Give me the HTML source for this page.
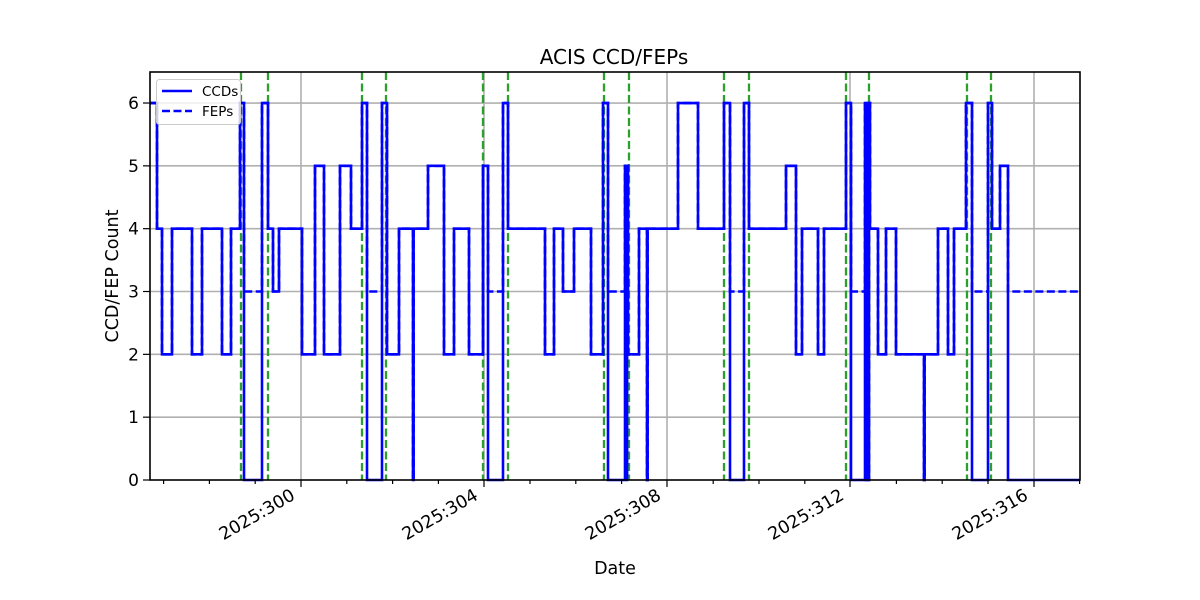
<!DOCTYPE html>
<html><head><meta charset="utf-8"><style>
html,body{margin:0;padding:0;background:#fff;}
svg{display:block;font-family:"DejaVu Sans","Liberation Sans",sans-serif;}
</style></head><body>
<svg id="s" width="1200" height="600" viewBox="0 0 1200 600" xmlns="http://www.w3.org/2000/svg">
<rect width="1200" height="600" fill="#fff"/>
<g id="grid" stroke="#b0b0b0" stroke-width="1.6"></g>
<g id="green" stroke="#2ca02c" stroke-width="2.3" stroke-dasharray="8,3.5"></g>
<polyline id="fep" fill="none" stroke="#0000ff" stroke-width="2.6" stroke-dasharray="8,3.5"/>
<polyline id="ccd" fill="none" stroke="#0000ff" stroke-width="2.6" stroke-linejoin="miter"/>
<rect x="150" y="72" width="930" height="408" fill="none" stroke="#000" stroke-width="1.6"/>
<g id="ticks" stroke="#000" stroke-width="1.2"></g>
<g id="labels" font-size="17" fill="#000"></g>
<text x="614" y="64" font-size="20" text-anchor="middle">ACIS CCD/FEPs</text>
<text x="615" y="574" font-size="17.5" text-anchor="middle">Date</text>
<text transform="translate(118,276) rotate(-90)" font-size="17.5" text-anchor="middle">CCD/FEP Count</text>
<rect x="156.5" y="79.5" width="84" height="45" rx="3" fill="#fff" fill-opacity="0.8" stroke="#ccc"/>
<line x1="162" y1="91" x2="192" y2="91" stroke="#0000ff" stroke-width="2.6"/>
<line x1="162" y1="111" x2="192" y2="111" stroke="#0000ff" stroke-width="2.6" stroke-dasharray="8,3.5"/>
<text x="202" y="96" font-size="13.5">CCDs</text>
<text x="202" y="116" font-size="13.5">FEPs</text>
</svg>
<script>
var NS="http://www.w3.org/2000/svg";
function el(p,t,a,txt){var e=document.createElementNS(NS,t);for(var k in a)e.setAttribute(k,a[k]);if(txt)e.textContent=txt;document.getElementById(p).appendChild(e);return e;}
function Y(v){return 480-62.83*v;}
var xt=[301,484,667,850,1034],xl=["2025:300","2025:304","2025:308","2025:312","2025:316"];
xt.forEach(function(x,i){el("grid","line",{x1:x,y1:72,x2:x,y2:480});
 el("ticks","line",{x1:x,y1:480,x2:x,y2:487});
 var t=el("labels","text",{x:0,y:0,"text-anchor":"end","font-size":"17.5",transform:"translate("+(x-11)+",488) rotate(-30)"},xl[i]);t.setAttribute("dy","0.7em");});
for(var d=-3;d<=17;d++){var x=301+d*45.8;if(x>150&&x<1080&&d%4!=0)el("ticks","line",{x1:x,y1:480,x2:x,y2:484});}
for(var v=0;v<=6;v++){var y=Y(v);if(v>0)el("grid","line",{x1:150,y1:y,x2:1080,y2:y});
 el("ticks","line",{x1:143,y1:y,x2:150,y2:y});el("labels","text",{x:139,y:y+6,"text-anchor":"end"},""+v);}
[241,268,362,386,483,508,604,629,724,749,846,869,967,991].forEach(function(x){el("green","line",{x1:x,y1:72,x2:x,y2:480});});
var S=[[150,6],[157,4],[162,2],[172,4],[192,2],[202,4],[222,2],[231,4],[240,6],[244,0],[262,6],[268,4],[273,3],[279,4],[302,2],[315,5],[324,2],[340,5],[351,4],[362,6],[367,0],[382,6],[387,2],[399,4],[413,-1],[413.6,4],[428,5],[444,2],[454,4],[469,2],[483,5],[488,0],[503,6],[508,4],[545,2],[554,4],[563,3],[574,4],[591,2],[603,6],[608,0],[625,5],[626,-1],[627,5],[628,2],[639,4],[647,-1],[647.6,4],[678,6],[698,4],[724,6],[730,0],[744,6],[749,4],[786,5],[796,2],[802,4],[818,2],[824,4],[846,6],[851,0],[865,6],[866,-1],[867,6],[868,-1],[869,6],[870,4],[878,2],[886,4],[896,2],[924,-1],[924.6,2],[938,4],[948,2],[954,4],[966,6],[972,0],[988,6],[992,4],[1000,5],[1008,0]];
function pts(f){var p=[];for(var i=0;i<S.length;i++){var x0=S[i][0],x1=i+1<S.length?S[i+1][0]:1080,v=f(S[i][1]);p.push(x0+","+Y(v));p.push(x1+","+Y(v));}return p.join(" ");}
document.getElementById("ccd").setAttribute("points",pts(function(v){return v<0?0:v;}));
document.getElementById("fep").setAttribute("points",pts(function(v){return v<0?0:(v==0?3:v);}));
</script>
</body></html>
